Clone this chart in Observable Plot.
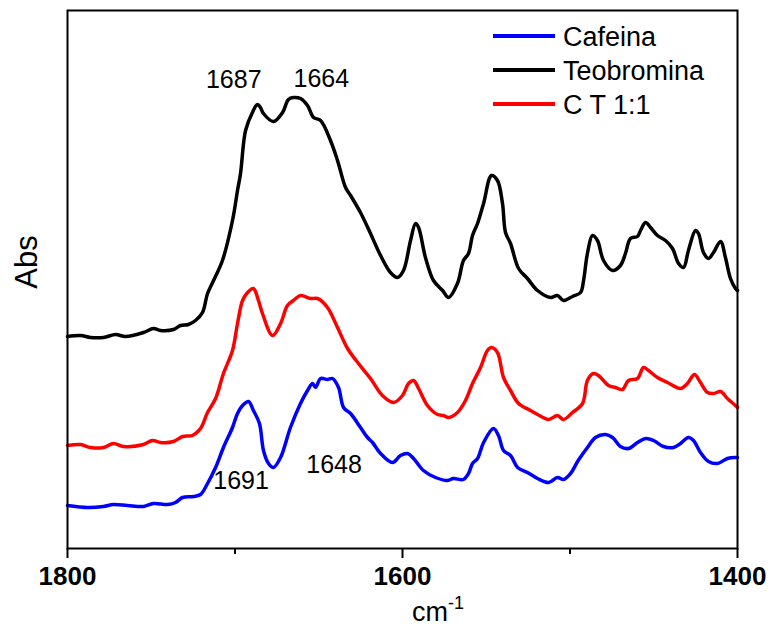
<!DOCTYPE html>
<html><head><meta charset="utf-8">
<script src="https://cdn.jsdelivr.net/npm/d3@7"></script>
<script src="https://cdn.jsdelivr.net/npm/@observablehq/plot@0.6"></script>
<style>
body{margin:0;background:#fff;}
#chart svg{display:block;}
</style>
</head><body><div id="chart"></div>
<script>
// ---- data ----
const seriesNames = ["Cafeina", "Teobromina", "C T 1:1"];
const seriesColors = ["#0000ff", "#000000", "#ff0000"];

const majorTicks = [1800, 1600, 1400];
const minorTicks = [1700, 1500];

const teobrominaWn = [1800,1792.2,1786.3,1778.5,1771.3,1765.4,1754.6,1748.7,1744.5,1736.7,1732.5,1727.8,1723.6,1719.4,1716.4,1712.8,1707.5,1701.5,1698.5,1696.7,1693.7,1689.6,1686.6,1684.8,1683.0,1677.0,1671.6,1668.1,1665.1,1660.9,1656.7,1653.1,1648.9,1643.0,1638.8,1634.0,1631.0,1625.1,1619.1,1613.1,1607.2,1603.0,1599.4,1595.2,1592.2,1590.4,1586.3,1581.5,1576.1,1572.5,1567.2,1563.6,1560.6,1558.2,1555.2,1551.6,1546.9,1543.3,1540.3,1538.5,1535.5,1530.7,1525.4,1519.4,1511.6,1507.5,1503.9,1498.5,1493.7,1491.9,1489.6,1486.6,1483.6,1480.0,1474.6,1469.9,1466.9,1463.9,1459.7,1457.9,1454.9,1451.9,1447.8,1443.0,1438.8,1435.2,1432.2,1429.3,1425.1,1423.3,1420.3,1417.3,1414.3,1410.1,1407.2,1404.2,1401.2,1400];
const teobrominaAbs = [210,211,209,209,212,210,214,218,216,217,221,222,226,234,253,266,286,326,356,373,416,434,442,439,433,425,434,447,449,448,441,429,426,406,386,359,351,334,313,291,274,269,276,306,323,319,289,266,256,249,263,286,293,311,323,343,371,366,343,314,303,278,268,256,249,251,246,250,254,266,293,311,306,286,276,281,293,308,310,316,324,319,311,306,298,283,279,296,316,313,294,288,294,305,289,268,258,256];

const ctWn = [1800,1792.2,1786.3,1778.5,1772.5,1766.6,1754.6,1749.3,1744.5,1736.7,1731.3,1725.4,1720.6,1716.4,1711.6,1706.9,1701.5,1698.5,1695.5,1692.5,1689.0,1686.0,1683.6,1677.6,1672.8,1668.7,1665.1,1660.9,1654.9,1650.7,1644.8,1638.8,1632.8,1626.3,1619.1,1612.0,1605.4,1600.0,1596.4,1593.4,1590.4,1585.1,1579.1,1575.5,1572.5,1567.2,1562.4,1558.2,1553.4,1549.3,1546.9,1543.3,1539.7,1535.5,1530.7,1523.6,1519.4,1512.8,1507.5,1503.9,1498.5,1492.5,1489.6,1486.0,1483.0,1477.0,1472.8,1468.7,1465.1,1459.7,1456.1,1453.1,1447.8,1441.8,1434.0,1429.9,1425.7,1422.1,1417.9,1414.3,1410.1,1406.0,1400.6,1400];
const ctAbs = [101,102,99,99,103,100,102,106,104,105,110,111,118,134,148,173,196,223,246,254,258,246,233,211,223,241,246,251,248,248,239,219,198,183,168,151,144,151,163,166,158,141,132,131,129,134,146,163,179,196,199,194,169,156,143,136,132,127,131,127,134,143,166,173,171,161,159,157,166,168,179,176,169,164,158,163,172,164,154,153,155,148,140,139];

const cafeinaWn = [1800,1788.1,1778.5,1772.5,1764.2,1754.6,1748.7,1740.3,1735.5,1731.3,1724.8,1720.6,1716.4,1711.6,1706.9,1701.5,1698.5,1695.5,1691.9,1689.0,1685.4,1683.0,1680.0,1677.0,1672.8,1666.9,1660.9,1656.7,1653.7,1651.9,1648.9,1644.8,1641.8,1638.2,1635.2,1631.0,1625.1,1620.9,1617.9,1613.1,1606.0,1601.2,1597.0,1593.4,1587.5,1580.3,1573.1,1569.6,1563.6,1560.6,1558.2,1555.2,1551.6,1545.7,1542.7,1539.7,1535.5,1531.3,1525.4,1519.4,1512.8,1507.5,1503.9,1499.7,1495.1,1489.6,1484.8,1478.8,1474.6,1469.9,1465.1,1459.7,1454.9,1450.1,1444.2,1438.2,1434.0,1429.3,1426.3,1422.1,1417.3,1411.9,1406.0,1400.6,1400];
const cafeinaAbs = [41,39,40,42,41,40,43,42,44,49,50,52,63,79,99,119,133,141,145,136,123,96,83,79,89,119,143,156,163,159,168,167,168,159,139,133,119,109,104,93,84,91,93,88,76,69,66,68,67,73,83,88,104,118,111,96,91,79,74,68,64,69,67,73,86,99,109,112,109,100,98,104,108,106,100,99,103,109,106,94,85,83,88,89,89];

// peak annotations
const peakLabels = ["1687", "1664", "1691", "1648"];
const peakWn = [1687, 1664, 1691, 1648];
const peakLabelLevel = [459, 460, 58, 74];

// ---- build table ----
function rowsFor(name, wn, ab) {
  const n = Math.min(wn.length, ab.length);
  const out = [];
  for (let i = 0; i < n; i++) out.push({series: name, wn: wn[i], abs: ab[i]});
  return out;
}
const rows = [
  ...rowsFor("Teobromina", teobrominaWn, teobrominaAbs),
  ...rowsFor("C T 1:1", ctWn, ctAbs),
  ...rowsFor("Cafeina", cafeinaWn, cafeinaAbs)
];
const peaks = peakLabels.map((t, i) => ({label: t, wn: peakWn[i], level: peakLabelLevel[i]}));
const peakDx = [-23, 26, -9, 12];

const FONT = "'Liberation Sans', Arial, Helvetica, sans-serif";

const chart = Plot.plot({
  width: 771,
  height: 629,
  marginLeft: 67,
  marginRight: 34,
  marginTop: 10,
  marginBottom: 81,
  style: {fontFamily: FONT, background: "#fff", color: "#000"},
  x: {domain: [1800, 1400], label: null},
  y: {domain: [-2, 536], label: null, axis: null},
  color: {domain: seriesNames, range: seriesColors},
  marks: [
    Plot.line(rows, {x: "wn", y: "abs", z: "series", stroke: "series", strokeWidth: 3.5, curve: "catmull-rom", strokeLinejoin: "round"}),
    ...peaks.map((p, i) => Plot.text([p], {x: "wn", y: "level", text: "label", dx: peakDx[i], lineAnchor: "bottom", textAnchor: "middle", fontSize: 25, fill: "#000"})),
    Plot.frame({stroke: "#000", strokeWidth: 2}),
    Plot.axisX({ticks: majorTicks, tickSize: 10, tickPadding: 8, tickFormat: d => String(d), fontSize: 26, fontWeight: "bold", strokeWidth: 2, label: null}),
    Plot.axisX({ticks: minorTicks, tickSize: 6, tickFormat: () => "", strokeWidth: 2, label: null})
  ]
});
document.getElementById("chart").appendChild(chart);

// ---- axis titles and legend ----
const svg = d3.select(chart);
svg.append("text")
  .attr("transform", "translate(37,262) rotate(-90)")
  .attr("text-anchor", "middle")
  .attr("font-family", FONT).attr("font-size", 31).attr("fill", "#000")
  .text("Abs");

const xt = svg.append("text")
  .attr("x", 412).attr("y", 621)
  .attr("text-anchor", "start")
  .attr("font-family", FONT).attr("font-size", 27).attr("fill", "#000");
xt.append("tspan").text("cm");
xt.append("tspan").attr("dy", -12).attr("font-size", 18).text("-1");

const legendOrder = ["Cafeina", "Teobromina", "C T 1:1"];
const legendY = [36, 70, 104];
legendOrder.forEach((name, i) => {
  const c = seriesColors[seriesNames.indexOf(name)];
  svg.append("line").attr("x1", 493).attr("x2", 555)
    .attr("y1", legendY[i]).attr("y2", legendY[i])
    .attr("stroke", c).attr("stroke-width", 4);
  svg.append("text").attr("x", 563).attr("y", legendY[i] + 10)
    .attr("text-anchor", "start")
    .attr("font-family", FONT).attr("font-size", 27).attr("fill", "#000")
    .text(name);
});
</script>
</body></html>
